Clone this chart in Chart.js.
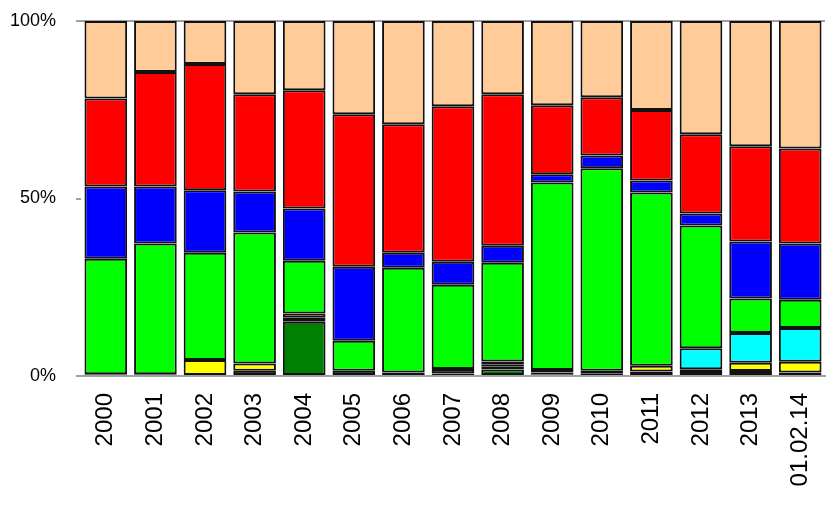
<!DOCTYPE html>
<html>
<head>
<meta charset="utf-8">
<script src="https://cdn.jsdelivr.net/npm/chart.js@4/dist/chart.umd.min.js"></script>
<style>
html,body{margin:0;padding:0;background:#fff;overflow:hidden;}
#wrap{position:relative;width:838px;height:505px;}
</style>
</head>
<body>
<div id="wrap"><canvas id="c"></canvas></div>
<script>
const categories = ["2000","2001","2002","2003","2004","2005","2006","2007","2008","2009","2010","2011","2012","2013","01.02.14"];
const darkGreen = [0,0,0,0,15.3,0,0,0.7,1.8,0.5,0,0,0,0,0];
const black     = [0.5,0.5,0,1.5,1.1,1.5,1,1.3,0.8,0.5,0.8,1.3,1.1,1.4,1];
const yellow    = [0,0,4.5,2,1.2,0,0,0,0.7,0.7,0.7,1.6,0.8,2.3,3];
const cyan      = [0,0,0,0,0,0,0,0,0.8,0,0,0,5.9,8.4,9.5];
const green     = [32.5,36.8,30.2,36.9,14.9,8.4,29.5,23.7,27.8,52.8,57,48.8,34.6,9.7,8.0];
const blue      = [20.4,16.1,17.6,11.6,14.7,20.9,4.2,6.5,4.8,2.3,3.6,3.4,3.4,16.1,15.8];
const red       = [24.8,32.2,35.6,27.4,33.3,42.9,36.2,43.8,42.7,19.5,16.4,19.8,22.3,26.8,26.8];
const peach     = [21.8,14.4,12.1,20.6,19.5,26.3,29.1,24,20.6,23.7,21.5,25.1,31.9,35.3,35.9];
const yTicks = [0,50,100];

const series = [
  {data: darkGreen, color: '#008000'},
  {data: black, color: '#000000'},
  {data: yellow, color: '#FFFF00'},
  {data: cyan, color: '#00FFFF'},
  {data: green, color: '#00FF00'},
  {data: blue, color: '#0000FF'},
  {data: red, color: '#FF0000'},
  {data: peach, color: '#FFCC99'}
];

const FONT = "'Liberation Sans', Arial, sans-serif";

new Chart(document.getElementById('c'), {
  type: 'bar',
  data: {
    labels: categories,
    datasets: series.map(s => ({
      data: s.data.map(v => v === 0 ? null : v),
      backgroundColor: s.color,
      borderColor: '#111111',
      borderWidth: 2,
      borderSkipped: false,
      barPercentage: 0.86,
      categoryPercentage: 1.0
    }))
  },
  options: {
    responsive: true,
    maintainAspectRatio: false,
    animation: false,
    layout: {padding: {top: 0, right: 0, left: 0, bottom: 0}},
    plugins: {legend: {display: false}, tooltip: {enabled: false}},
    scales: {
      x: {
        stacked: true,
        grid: {display: false},
        border: {display: true, color: '#a0a0a0', width: 2},
        ticks: {
          color: '#000',
          font: {family: FONT, size: 24},
          maxRotation: 90, minRotation: 90,
          padding: 9,
          autoSkip: false
        },
        afterFit: (s) => { s.height = 129; }
      },
      y: {
        stacked: true,
        min: 0, max: 100,
        afterBuildTicks: (s) => { s.ticks = yTicks.map(v => ({value: v})); },
        border: {display: false},
        grid: {
          color: (ctx) => (ctx.tick && ctx.tick.value === 100) ? '#a0a0a0' : 'rgba(0,0,0,0)',
          tickColor: '#a0a0a0',
          tickLength: 5,
          lineWidth: 2,
          drawOnChartArea: true
        },
        ticks: {
          color: '#000',
          font: {family: FONT, size: 18},
          padding: 20,
          callback: (v) => v + '%'
        },
        afterFit: (s) => { s.width = 81; s.paddingTop = 21; s.paddingBottom = 0; }
      }
    }
  }
});
</script>
</body>
</html>
